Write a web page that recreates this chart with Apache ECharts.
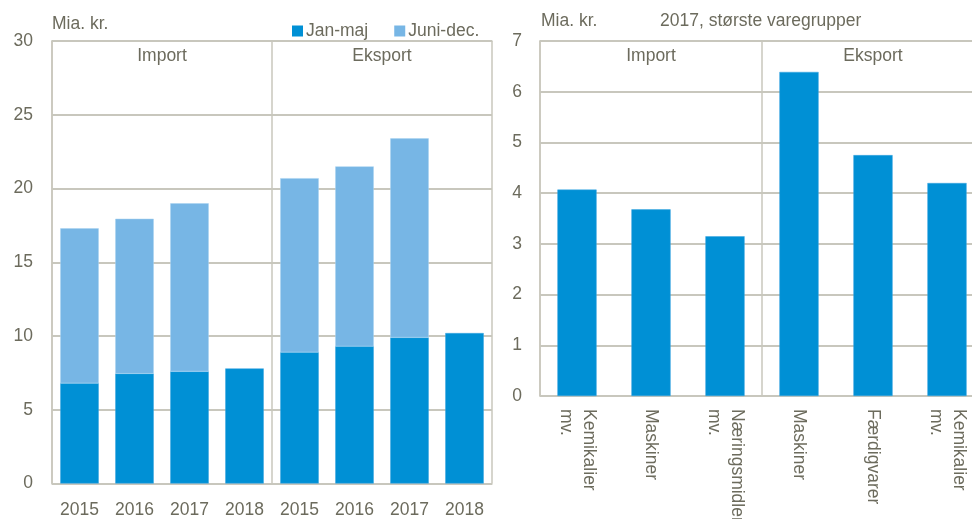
<!DOCTYPE html>
<html>
<head>
<meta charset="utf-8">
<script src="https://cdn.jsdelivr.net/npm/echarts@6/dist/echarts.min.js"></script>
<style>
html,body{margin:0;padding:0;background:#fff;}
#c{width:972px;height:519px;}
</style>
</head>
<body>
<div id="c"></div>
<script>
const years = ['2015','2016','2017','2018','2015','2016','2017','2018'];
const groupsLeft = ['Import','Eksport'];
const janMaj = [6.8, 7.45, 7.6, 7.8, 8.9, 9.3, 9.9, 10.2];
const juniDec = [10.5, 10.5, 11.4, null, 11.8, 12.2, 13.5, null];
const goods = ['Kemikalier\nmv.','Maskiner','Næringsmidler\nmv.','Maskiner','Færdigvarer','Kemikalier\nmv.'];
const groupsRight = ['Import','Eksport'];
const goodsValues = [4.07, 3.68, 3.15, 6.39, 4.75, 4.20];
const leftTicks = [0,5,10,15,20,25,30];
const rightTicks = [0,1,2,3,4,5,6,7];

const txt = '#6c6b5d';
const frame = '#c8c7bd';
const gridC = '#b6b4a7';
const dark = '#0090d5';
const light = '#77b6e5';
const font = '"Liberation Sans", Arial, sans-serif';
const fs = 17.5;

const chart = echarts.init(document.getElementById('c'), null, {renderer:'canvas'});
chart.setOption({
  animation:false,
  textStyle:{fontFamily:font, color:txt},
  grid:[
    {left:52, right:480, top:41, bottom:35.5, outerBoundsMode:'none', containLabel:false},
    {left:540, width:444, top:41, bottom:123, outerBoundsMode:'none', containLabel:false}
  ],
  legend:{
    data:['Jan-maj','Juni-dec.'],
    left:287, top:17, icon:'rect', itemWidth:11, itemHeight:11, itemGap:26,
    itemStyle:{borderWidth:0},
    textStyle:{fontSize:fs, color:txt, fontFamily:font, padding:[0,0,0,-2]}
  },
  graphic:[
    {type:'text', left:52, top:15, style:{text:'Mia. kr.', fontSize:fs, fill:txt, fontFamily:font}},
    {type:'text', left:541, top:12, style:{text:'Mia. kr.', fontSize:fs, fill:txt, fontFamily:font}},
    {type:'text', left:660, top:12, style:{text:'2017, største varegrupper', fontSize:fs, fill:txt, fontFamily:font}}
  ],
  xAxis:[
    {type:'category', gridIndex:0, data:years, position:'bottom',
     axisLine:{lineStyle:{color:frame, width:1.5}}, axisTick:{show:false},
     axisLabel:{color:txt, fontSize:fs, margin:18, fontFamily:font, interval:0}},
    {type:'category', gridIndex:0, data:groupsLeft, position:'top',
     axisLine:{lineStyle:{color:frame, width:1.5}}, axisTick:{show:false},
     axisLabel:{inside:true, color:txt, fontSize:fs, margin:6, fontFamily:font},
     splitLine:{show:true, interval:0, lineStyle:{color:frame, width:1.5}}},
    {type:'category', gridIndex:1, data:goods, position:'bottom',
     axisLine:{lineStyle:{color:frame, width:1.5}}, axisTick:{show:false},
     axisLabel:{color:txt, fontSize:fs, margin:13, rotate:-90, lineHeight:23, fontFamily:font, interval:0}},
    {type:'category', gridIndex:1, data:groupsRight, position:'top',
     axisLine:{lineStyle:{color:frame, width:1.5}}, axisTick:{show:false},
     axisLabel:{inside:true, color:txt, fontSize:fs, margin:6, fontFamily:font},
     splitLine:{show:true, interval:0, lineStyle:{color:frame, width:1.5}}}
  ],
  yAxis:[
    {type:'value', gridIndex:0, min:leftTicks[0], max:leftTicks[leftTicks.length-1], interval:5,
     axisLine:{show:true, lineStyle:{color:frame, width:1.5}}, axisTick:{show:false},
     axisLabel:{color:txt, fontSize:fs, margin:19, fontFamily:font},
     splitLine:{show:true, lineStyle:{color:gridC, width:1.5}}},
    {type:'value', gridIndex:1, min:rightTicks[0], max:rightTicks[rightTicks.length-1], interval:1,
     axisLine:{show:true, lineStyle:{color:frame, width:1.5}}, axisTick:{show:false},
     axisLabel:{color:txt, fontSize:fs, margin:18, fontFamily:font},
     splitLine:{show:true, lineStyle:{color:gridC, width:1.5}}}
  ],
  series:[
    {name:'Jan-maj', type:'bar', stack:'a', xAxisIndex:0, yAxisIndex:0, data:janMaj,
     barWidth:'70%', itemStyle:{color:dark, borderColor:'#3aa5e0', borderWidth:0.5}},
    {name:'Juni-dec.', type:'bar', stack:'a', xAxisIndex:0, yAxisIndex:0, data:juniDec,
     barWidth:'70%', itemStyle:{color:light, borderColor:'#a9d2f0', borderWidth:0.5}},
    {name:'Vare', type:'bar', xAxisIndex:2, yAxisIndex:1, data:goodsValues,
     barWidth:'53%', itemStyle:{color:dark, borderColor:'#3aa5e0', borderWidth:0.5}}
  ]
});
</script>
</body>
</html>
